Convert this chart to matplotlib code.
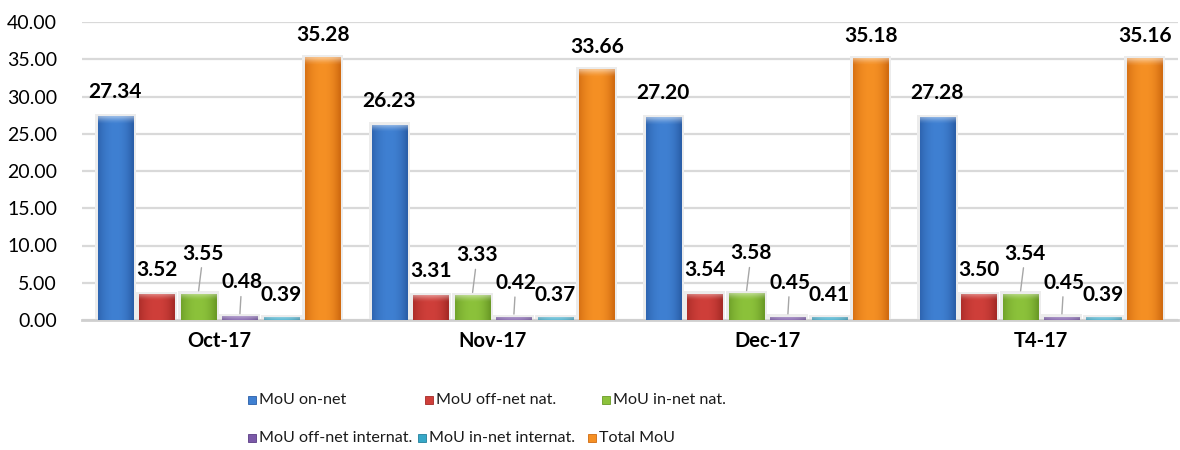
import numpy as np
import matplotlib
matplotlib.use("Agg")
import matplotlib.pyplot as plt
from matplotlib.patches import Rectangle
from matplotlib.colors import to_rgb

categories = ["Oct-17", "Nov-17", "Dec-17", "T4-17"]
series_names = ["MoU on-net", "MoU off-net nat.", "MoU in-net nat.",
                "MoU off-net internat.", "MoU in-net internat.", "Total MoU"]
mou_on_net = [27.34, 26.23, 27.20, 27.28]
mou_off_net_nat = [3.52, 3.31, 3.54, 3.50]
mou_in_net_nat = [3.55, 3.33, 3.58, 3.54]
mou_off_net_internat = [0.48, 0.42, 0.45, 0.45]
mou_in_net_internat = [0.39, 0.37, 0.41, 0.39]
total_mou = [35.28, 33.66, 35.18, 35.16]
series_values = [mou_on_net, mou_off_net_nat, mou_in_net_nat,
                 mou_off_net_internat, mou_in_net_internat, total_mou]
yticks = [0, 5, 10, 15, 20, 25, 30, 35, 40]

colors = ["#3f80d2", "#cf3f3a", "#8cc23b", "#7b59a8", "#36a8c8", "#f59024"]
dark = ["#2a5ea8", "#a52a26", "#6a9a26", "#5a3d85", "#23809c", "#d06a10"]

plt.rcParams['font.family'] = ['Lato', 'DejaVu Sans']

fig = plt.figure(figsize=(11.8, 4.5), dpi=100)
ax = fig.add_axes([82/1180, 1-320/450, 1096/1180, 298/450])

x = np.arange(len(categories))
pitch = 0.1515
width = 0.128
units_per_px = 40 / 298.0

# label offsets in pixels (dx, dy from bar top to label center)
label_off = [(0, 24), (0, 24), (5, 40), (2, 34), (0, 22), (0, 22)]
leader = [False, False, True, True, False, False]

def bar_img(c, d, v, nx=64, ny=120):
    c = np.array(to_rgb(c)); d = np.array(to_rgb(d))
    t = np.linspace(-1, 1, nx)
    w = np.clip(np.abs(t) ** 2.2, 0, 1)
    w = np.clip(w * np.where(t > 0, 1.1, 0.8), 0, 1)
    row = c[None, :] * (1 - w[:, None]) + d[None, :] * w[:, None]
    img = np.repeat(row[None, :, :], ny, axis=0)
    cap = 7 * units_per_px
    ys = np.linspace(v, 0, ny)
    f = np.clip(1 - (v - ys) / cap, 0, 1) ** 1.5 * 0.45
    img = img * (1 - f[:, None, None]) + 1.0 * f[:, None, None]
    return img

for k, (vals, name) in enumerate(zip(series_values, series_names)):
    pos = x + (k - 2.5) * pitch
    ax.bar(pos, [v + 0.3 for v in vals], width=width + 0.022, color="#ececec",
           zorder=1, linewidth=0)
    bars = ax.bar(pos, vals, width=width, color=colors[k], label=name,
                  zorder=2, linewidth=0)
    for b, v in zip(bars, vals):
        x0 = b.get_x(); x1 = x0 + b.get_width()
        im = ax.imshow(bar_img(colors[k], dark[k], v), extent=[x0, x1, 0, v],
                       aspect='auto', zorder=3, interpolation='bilinear')
        im.set_clip_path(b)
    for p, v in zip(pos, vals):
        dx, dy = label_off[k]
        ap = None
        if leader[k]:
            ap = dict(arrowstyle='-', color='#a6a6a6', lw=1.0, shrinkA=1, shrinkB=2)
        ax.annotate(f"{v:.2f}", xy=(p, v), xytext=(dx, dy),
                    textcoords='offset pixels', ha='center', va='center',
                    fontsize=15, fontweight='bold', color='black',
                    arrowprops=ap, zorder=6)

ax.set_xlim(-0.5, len(categories) - 0.5)
ax.set_ylim(0, 40)
ax.set_yticks(yticks)
ax.set_yticklabels([f"{t:.2f}" for t in yticks], fontsize=14)
ax.set_xticks(x)
ax.set_xticklabels(categories, fontsize=14.5, fontweight='bold')
ax.tick_params(axis='both', length=0)
ax.tick_params(axis='x', pad=8)
ax.tick_params(axis='y', pad=18)
ax.grid(axis='y', color='#d9d9d9', linewidth=1.6, zorder=0)
ax.set_axisbelow(True)
for s in ['top', 'right', 'left']:
    ax.spines[s].set_visible(False)
ax.spines['bottom'].set_color('#cfcfcf')
ax.spines['bottom'].set_linewidth(2)

# legend, laid out like the original (two rows)
leg_pos = [(248, 400), (425, 400), (602, 400), (248, 438), (418, 438), (588, 438)]
for k, name in enumerate(series_names):
    px, py = leg_pos[k]
    fig.patches.append(Rectangle((px / 1180, 1 - (py + 4) / 450), 8 / 1180, 8 / 450,
                                 transform=fig.transFigure, facecolor=colors[k],
                                 edgecolor=dark[k], linewidth=0.6))
    fig.text((px + 11) / 1180, 1 - py / 450, name, fontsize=11.6, va='center',
             ha='left', color='#1a1a1a')

fig.savefig("out.png", dpi=100)
